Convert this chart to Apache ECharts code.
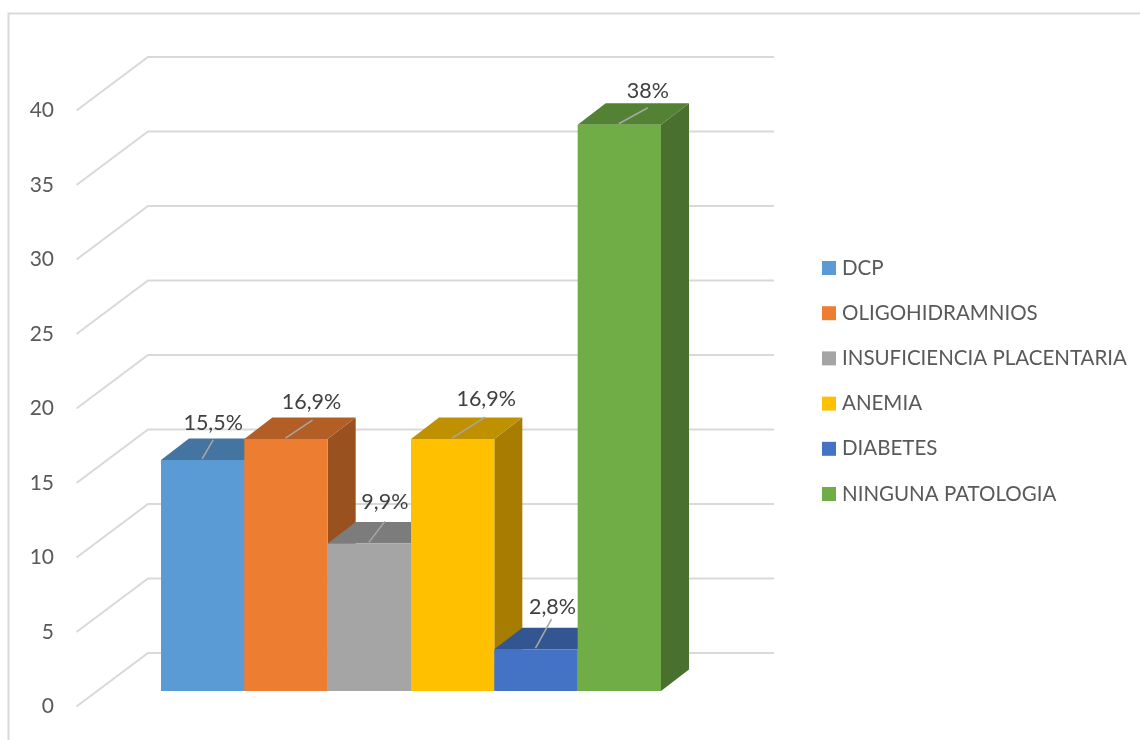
<!DOCTYPE html>
<html><head><meta charset="utf-8">
<style>html,body{margin:0;padding:0;background:#fff}#c{width:1140px;height:740px}</style>
<script src="https://cdn.jsdelivr.net/npm/echarts@6/dist/echarts.min.js"></script>
</head><body><div id="c"></div>
<script>
var categories = ['DCP','OLIGOHIDRAMNIOS','INSUFICIENCIA PLACENTARIA','ANEMIA','DIABETES','NINGUNA PATOLOGIA'];
var values = [15.5,16.9,9.9,16.9,2.8,38];
var labels = ['15,5%','16,9%','9,9%','16,9%','2,8%','38%'];
var colors = ['#5B9BD5','#ED7D31','#A5A5A5','#FFC000','#4472C4','#70AD47'];
var yTicks = [0,5,10,15,20,25,30,35,40];
var leaderOffsets = [[11,-19],[27,-18],[16,-21],[33,-21],[16,-29],[29,-16]];
var textOffsets = [[0,-17],[-1,-18],[0,-19],[1,-18],[1,-12],[0,-17]];

var font = 'Lato, "Open Sans", sans-serif';
var txt = '#595959', lbl = '#404040', wall = '#D9D9D9';
var DX = 28, DY = 21.5, BASE = 15.6;   // oblique projection of the chart's depth

function shade(hex, f){
  var n = parseInt(hex.slice(1),16);
  return 'rgb('+Math.round((n>>16&255)*f)+','+Math.round((n>>8&255)*f)+','+Math.round((n&255)*f)+')';
}
function wallItem(params, api){
  var y = api.coord([0, api.value(1)])[1];
  var x0 = params.coordSys.x - 84.5;
  var xb = x0 + 71.5, xe = x0 + 697.5;
  return {type:'polyline', shape:{points:[[x0,y],[xb,y-DY-32],[xe,y-DY-32]]}, style:{stroke:wall,lineWidth:2,fill:null}, silent:true};
}
function barItem(i){
  return function(params, api){
    var top = api.coord([i, api.value(1)]);
    var bot = api.coord([i, 0]);
    var w = api.size([1,0])[0];
    var xl = top[0]-w/2, xr = top[0]+w/2, yt = top[1]-BASE, yb = bot[1]-BASE;
    var c = colors[i], lo = leaderOffsets[i], to = textOffsets[i];
    var lx = top[0]-0.5, ly = yt-1;
    return {type:'group', children:[
      {type:'polygon', shape:{points:[[xr,yb],[xr+DX,yb-DY],[xr+DX,yt-DY],[xr,yt]]}, style:{fill:shade(c,0.65)}},
      {type:'polygon', shape:{points:[[xl,yt],[xl+DX,yt-DY],[xr+DX,yt-DY],[xr,yt]]}, style:{fill:shade(c,0.75)}},
      {type:'rect', shape:{x:xl,y:yt,width:w,height:yb-yt}, style:{fill:c}},
      {type:'line', shape:{x1:lx,y1:ly,x2:lx+lo[0],y2:ly+lo[1]}, style:{stroke:'#A6A6A6',lineWidth:1.6}, z2:5},
      {type:'text', x:lx+lo[0]+to[0], y:ly+lo[1]+to[1], z2:6,
       style:{text:labels[i],fill:lbl,font:'21.5px '+font,textAlign:'center',textVerticalAlign:'middle'}}
    ]};
  };
}
var series = [{type:'custom',name:'walls',silent:true,renderItem:wallItem,encode:{x:0,y:1},z:1,
  data:yTicks.map(function(t){return [0,t];})}];
categories.forEach(function(name,i){
  series.push({type:'custom',name:name,z:2+i,renderItem:barItem(i),encode:{x:0,y:1},
    itemStyle:{color:colors[i]},data:[[i,values[i]]]});
});
var chart = echarts.init(document.getElementById('c'),null,{renderer:'canvas'});
chart.setOption({
  animation:false,backgroundColor:'#fff',
  grid:{left:161,top:110.5,width:500,height:596},
  xAxis:{type:'category',data:categories,show:false,boundaryGap:true},
  yAxis:{type:'value',min:0,max:40,interval:5,
    axisLine:{show:false},axisTick:{show:false},splitLine:{show:false},
    axisLabel:{margin:107,color:txt,fontFamily:font,fontSize:21}},
  legend:{data:categories,orient:'vertical',left:817,top:252.5,itemWidth:14,itemHeight:14,itemGap:24.2,
    selectedMode:false,icon:'rect',textStyle:{color:txt,fontFamily:font,fontSize:20.5,padding:[0,0,0,1]},itemStyle:{borderWidth:0}},
  graphic:[{type:'rect',silent:true,z:0,shape:{x:8.5,y:13.5,width:1200,height:800},style:{fill:null,stroke:wall,lineWidth:2}}],
  series:series
});
</script></body></html>
